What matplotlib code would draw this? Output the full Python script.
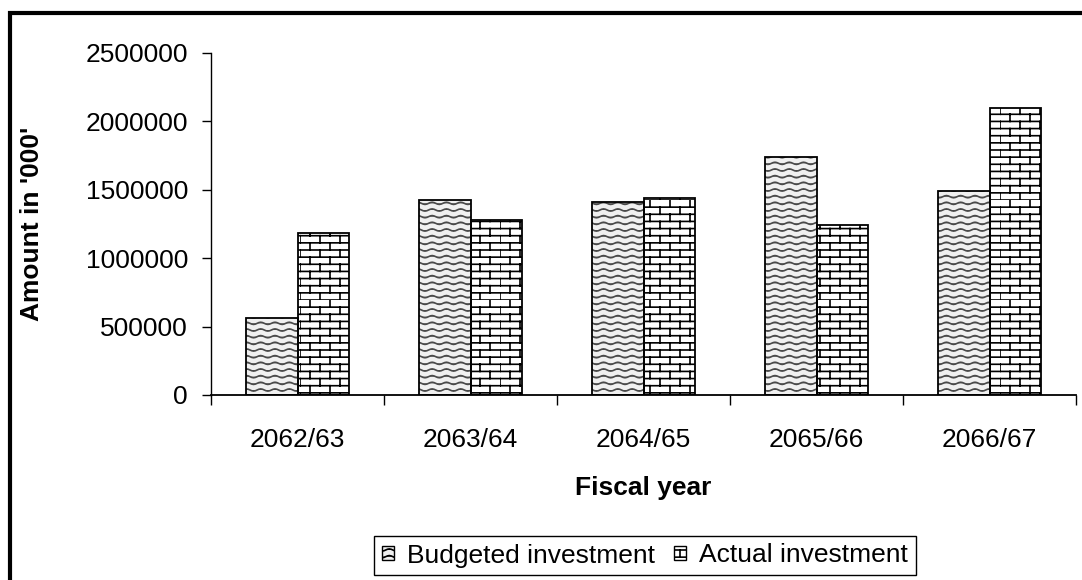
import warnings

import numpy as np
import matplotlib
matplotlib.use('Agg')
import matplotlib.pyplot as plt
from matplotlib import hatch as mhatch
from matplotlib.path import Path
from matplotlib.patches import Patch, Rectangle

warnings.filterwarnings('ignore')

# Data
years = ['2062/63', '2063/64', '2064/65', '2065/66', '2066/67']
budgeted = [563000, 1425000, 1413000, 1740000, 1493000]
actual = [1186000, 1279000, 1438000, 1243000, 2096000]
yticks = [0, 500000, 1000000, 1500000, 2000000, 2500000]
ytick_labels = ['0', '500000', '1000000', '1500000', '2000000', '2500000']
series_labels = ['Budgeted investment', 'Actual investment']


# Extra hatch patterns: '~' = rows of little waves, '#' = brick wall
class WaveHatch(mhatch.HatchPatternBase):
    def __init__(self, hatch, density):
        self.rows = hatch.count('~') * 15
        self.pts = 7 * 8 + 1
        self.num_vertices = self.rows * self.pts

    def set_vertices_and_codes(self, vertices, codes):
        xs = np.linspace(0.0, 1.0, self.pts)
        for r in range(self.rows):
            s = slice(r * self.pts, (r + 1) * self.pts)
            vertices[s, 0] = xs
            vertices[s, 1] = (r + 0.5) / self.rows + 0.011 * np.sin(2 * np.pi * 7 * xs)
            codes[s] = Path.LINETO
            codes[r * self.pts] = Path.MOVETO


class BrickHatch(mhatch.HatchPatternBase):
    def __init__(self, hatch, density):
        self.rows = hatch.count('#') * 14
        self.cols = 5
        self.num_vertices = self.rows * 2 * (self.cols + 1)

    def set_vertices_and_codes(self, vertices, codes):
        h = 1.0 / self.rows
        k = 0
        for r in range(self.rows):
            y = r * h
            vertices[k] = (0.0, y)
            vertices[k + 1] = (1.0, y)
            k += 2
            off = 0.5 * (r % 2) / self.cols
            for c in range(self.cols):
                x = c / self.cols + off
                vertices[k] = (x, y)
                vertices[k + 1] = (x, y + h)
                k += 2
        codes[0::2] = Path.MOVETO
        codes[1::2] = Path.LINETO


mhatch._hatch_types.extend([WaveHatch, BrickHatch])

plt.rcParams['font.family'] = ['Liberation Sans', 'DejaVu Sans']
plt.rcParams['font.size'] = 19
plt.rcParams['hatch.linewidth'] = 1.2

fig = plt.figure(figsize=(10.82, 5.8), dpi=100)
ax = fig.add_axes([211 / 1082, 1 - 395 / 580, 865 / 1082, 342 / 580])

x = np.arange(len(years))
w = 0.295

# hatch layer, then black outline on top
ax.bar(x - w / 2, budgeted, w, facecolor='#f0f0f0', edgecolor='#4a4a4a',
       hatch='~', linewidth=0)
ax.bar(x + w / 2, actual, w, facecolor='white', edgecolor='black',
       hatch='#', linewidth=0)
ax.bar(x - w / 2, budgeted, w, fill=False, edgecolor='black', linewidth=1.3)
ax.bar(x + w / 2, actual, w, fill=False, edgecolor='black', linewidth=1.3)

ax.set_xlim(-0.5, len(years) - 0.5)
ax.set_ylim(0, 2500000)
ax.set_yticks(yticks)
ax.set_yticklabels(ytick_labels)
ax.set_xticks(x)
ax.set_xticklabels(years)
ax.set_xticks(np.arange(len(years) + 1) - 0.5, minor=True)
ax.tick_params(axis='x', which='major', length=0, pad=24)
ax.tick_params(axis='x', which='minor', length=7, width=1.0, direction='out')
ax.tick_params(axis='y', length=6.5, width=1.0, direction='out', pad=10)

for side in ['top', 'right']:
    ax.spines[side].set_visible(False)
ax.spines['left'].set_linewidth(1.0)
ax.spines['bottom'].set_linewidth(1.3)

ax.set_xlabel('Fiscal year', fontweight='bold', va='center')
ax.xaxis.set_label_coords(0.5, (395 - 488) / 342)
ax.set_ylabel("Amount in '000'", fontweight='bold', va='center')
ax.yaxis.set_label_coords((32 - 211) / 865, 0.5)

handles = [Patch(facecolor='#f0f0f0', edgecolor='black', hatch='~', linewidth=1.0),
           Patch(facecolor='white', edgecolor='black', hatch='#', linewidth=1.0)]
fig.legend(handles, series_labels, loc='center', bbox_to_anchor=(645 / 1082, 1 - 555.5 / 580),
           ncol=2, frameon=True, fancybox=False, edgecolor='black', framealpha=1,
           handlelength=0.45, handleheight=0.45, handletextpad=0.5, columnspacing=0.7,
           borderpad=0.3, borderaxespad=0)

# outer border
fig.patches.append(Rectangle((10 / 1082, -0.1), 1.2, 1 - 12.5 / 580 + 0.1, fill=False,
                             edgecolor='black', linewidth=3, transform=fig.transFigure))

fig.savefig('out.png', dpi=100)
